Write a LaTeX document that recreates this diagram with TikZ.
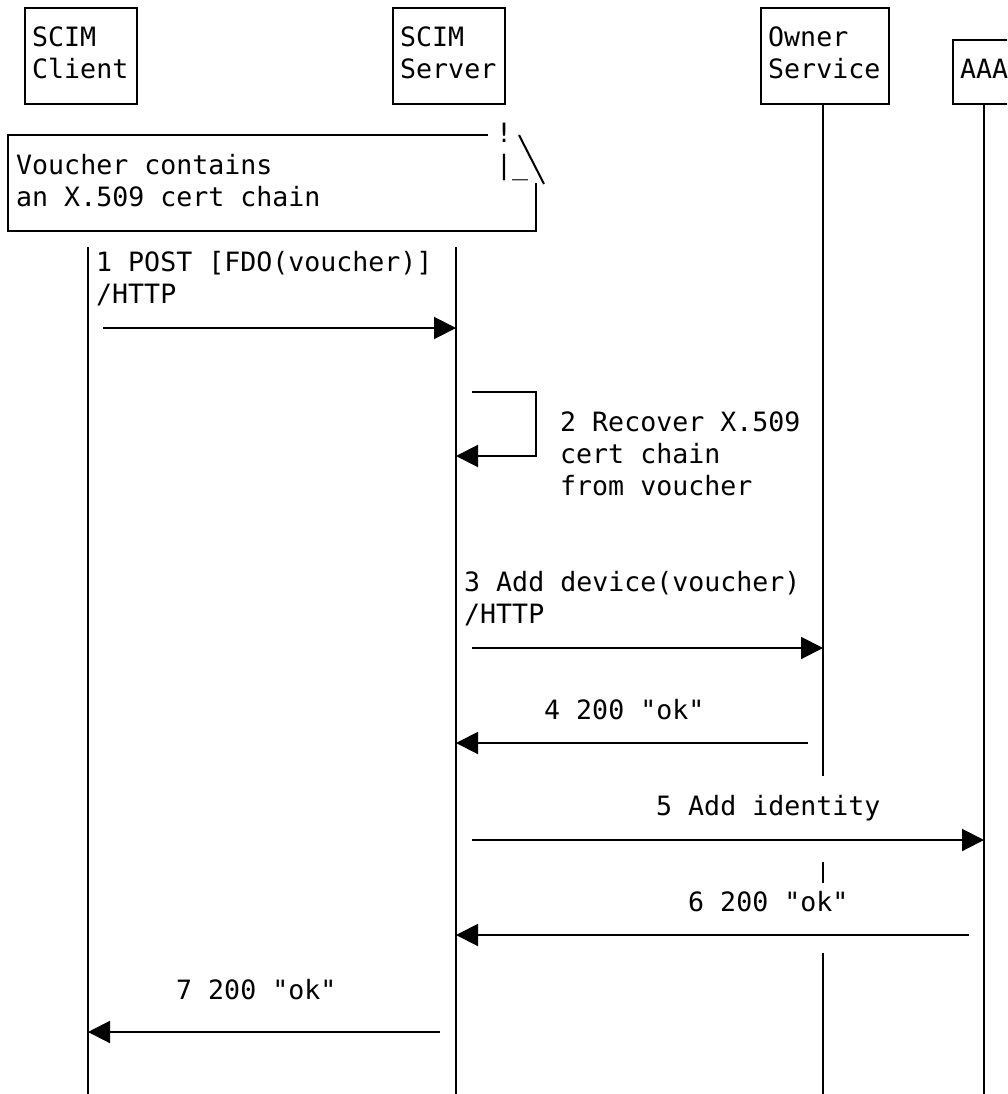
\documentclass[tikz,border=0pt]{standalone}
\usepackage{fontspec}
\setmonofont{DejaVu Sans Mono}
\usetikzlibrary{arrows.meta}
\begin{document}
\begin{tikzpicture}[x=1pt,y=-1pt,
  ln/.style={line width=2pt},
  box/.style={draw, line width=2pt, inner sep=0pt, anchor=north west},
  msg/.style={line width=2pt, -{Triangle[length=22pt,width=22pt]}},
  txt/.style={inner sep=0pt, anchor=base west, font=\ttfamily\fontsize{26.6pt}{32pt}\selectfont}]
\useasboundingbox (0,0) rectangle (1007,1094);
\clip (0,0) rectangle (1007,1094);

% participant boxes
\node[box, minimum width=112pt, minimum height=96pt] (clientbox) at (24,7) {};
\node[box, minimum width=112pt, minimum height=96pt] (serverbox) at (392,7) {};
\node[box, minimum width=128pt, minimum height=96pt] (ownerbox) at (760,7) {};
\node[box, minimum width=90pt, minimum height=64pt] (aaabox) at (952,39) {};
\node[txt] (tc1) at (32,47) {SCIM};
\node[txt] (tc2) at (32,79) {Client};
\node[txt] (ts1) at (400,47) {SCIM};
\node[txt] (ts2) at (400,79) {Server};
\node[txt] (to1) at (768,47) {Owner};
\node[txt] (to2) at (768,79) {Service};
\node[txt] (ta1) at (960,79) {AAA};

% lifelines
\coordinate (cl0) at (88,247);   \coordinate (cl1) at (88,1094);
\coordinate (sl0) at (456,247);  \coordinate (sl1) at (456,1094);
\coordinate (ol0) at (823,103);  \coordinate (ol1) at (823,776);
\coordinate (ol2) at (823,862);  \coordinate (ol3) at (823,883);
\coordinate (ol4) at (823,953);  \coordinate (ol5) at (823,1094);
\coordinate (al0) at (984,103);  \coordinate (al1) at (984,1094);
\draw[ln] (cl0) -- (cl1);
\draw[ln] (sl0) -- (sl1);
\draw[ln] (ol0) -- (ol1);
\draw[ln] (ol2) -- (ol3);
\draw[ln] (ol4) -- (ol5);
\draw[ln] (al0) -- (al1);

% note
\coordinate (n1) at (488,135); \coordinate (n2) at (8,135);
\coordinate (n3) at (8,231);   \coordinate (n4) at (536,231);
\coordinate (n5) at (536,183);
\coordinate (n6) at (519,135); \coordinate (n7) at (544,184);
\draw[ln] (n1) -- (n2) -- (n3) -- (n4) -- (n5);
\draw[ln] (n6) -- (n7);
\node[txt] (nb1) at (496,143) {!};
\node[txt] (nb2) at (496,175) {|\_};
\node[txt] (nt1) at (16,175) {Voucher contains};
\node[txt] (nt2) at (16,207) {an X.509 cert chain};

% message 1
\node[txt] (m1a) at (96,271) {1 POST [FDO(voucher)]};
\node[txt] (m1b) at (96,303) {/HTTP};
\coordinate (a1s) at (103,328); \coordinate (a1e) at (456,328);
\draw[msg] (a1s) -- (a1e);

% message 2 (self)
\coordinate (a2a) at (472,392); \coordinate (a2b) at (536,392);
\coordinate (a2c) at (536,456); \coordinate (a2d) at (456,456);
\draw[msg] (a2a) -- (a2b) -- (a2c) -- (a2d);
\node[txt] (m2a) at (560,431) {2 Recover X.509};
\node[txt] (m2b) at (560,463) {cert chain};
\node[txt] (m2c) at (560,495) {from voucher};

% message 3
\node[txt] (m3a) at (464,591) {3 Add device(voucher)};
\node[txt] (m3b) at (464,623) {/HTTP};
\coordinate (a3s) at (472,648); \coordinate (a3e) at (823,648);
\draw[msg] (a3s) -- (a3e);

% message 4
\node[txt] (m4) at (544,719) {4 200 "ok"};
\coordinate (a4s) at (808,743); \coordinate (a4e) at (456,743);
\draw[msg] (a4s) -- (a4e);

% message 5
\node[txt] (m5) at (656,815) {5 Add identity};
\coordinate (a5s) at (472,840); \coordinate (a5e) at (984,840);
\draw[msg] (a5s) -- (a5e);

% message 6
\node[txt] (m6) at (688,911) {6 200 "ok"};
\coordinate (a6s) at (969,935); \coordinate (a6e) at (456,935);
\draw[msg] (a6s) -- (a6e);

% message 7
\node[txt] (m7) at (176,999) {7 200 "ok"};
\coordinate (a7s) at (440,1032); \coordinate (a7e) at (88,1032);
\draw[msg] (a7s) -- (a7e);
\end{tikzpicture}
\end{document}
